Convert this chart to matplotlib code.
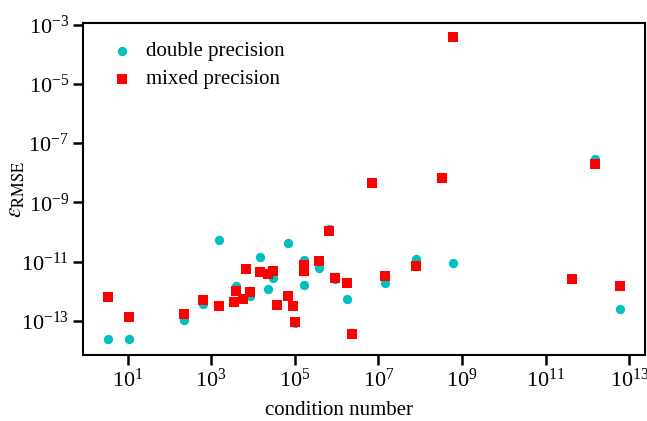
import numpy as np
import matplotlib
matplotlib.use("Agg")
import matplotlib.pyplot as plt

plt.rcParams['font.family'] = ['Liberation Serif', 'DejaVu Serif']
plt.rcParams['mathtext.fontset'] = 'stix'

# log10 of condition number, log10 of RMSE
log_cond = [0.535, 1.03, 2.34, 2.80, 3.19, 3.54, 3.59, 3.75, 3.84, 3.94, 4.17,
            4.35, 4.48, 4.58, 4.83, 4.95, 5.01, 5.22, 5.22, 5.59, 5.82, 5.96,
            6.24, 6.38, 6.84, 7.17, 7.90, 8.52, 8.78, 11.63, 12.18, 12.77]
log_double = [-13.62, -13.62, -12.96, -12.43, -10.27, -12.36, -11.82, -12.26,
              -11.25, -12.15, -10.86, -11.93, -11.54, -12.48, -10.38, -12.50,
              -13.06, -10.94, -11.79, -11.22, -9.90, -11.60, -12.27, -13.42,
              -8.35, -11.73, -10.92, -8.14, -11.06, -11.57, -7.54, -12.61]
log_mixed = [-12.19, -12.87, -12.77, -12.31, -12.49, -12.36, -11.99, -12.26,
             -11.25, -12.04, -11.36, -11.41, -11.31, -12.48, -12.16, -12.50,
             -13.04, -11.11, -11.31, -10.98, -9.98, -11.56, -11.72, -13.44,
             -8.35, -11.48, -11.15, -8.18, -3.42, -11.59, -7.70, -11.81]

cond = 10.0 ** np.array(log_cond)
err_double = 10.0 ** np.array(log_double)
err_mixed = 10.0 ** np.array(log_mixed)

fig = plt.figure(figsize=(6.47, 4.21), dpi=100)
ax = fig.add_axes([0.128, 0.157, 0.869, 0.788])

ax.scatter(cond, err_double, s=45, c='c', marker='o', linewidths=0,
           label='double precision', zorder=2)
ax.scatter(cond, err_mixed, s=48, c='r', marker='s', linewidths=0,
           label='mixed precision', zorder=3)

ax.set_xscale('log')
ax.set_yscale('log')
ax.set_xlim(10 ** -0.07, 10 ** 13.38)
ax.set_ylim(10 ** -14.15, 10 ** -2.95)
ax.set_xticks([10.0 ** k for k in range(1, 14, 2)])
ax.set_yticks([10.0 ** k for k in range(-13, -2, 2)])
ax.minorticks_off()

ax.tick_params(axis='both', which='major', direction='out', length=7, width=1.8,
               labelsize=16, pad=3)
for sp in ax.spines.values():
    sp.set_linewidth(1.5)

ax.set_xlabel('condition number', fontsize=15)
ax.xaxis.set_label_coords(0.455, -0.14)
ax.set_ylabel(r'$\varepsilon_{\rm RMSE}$', fontsize=17)
ax.yaxis.set_label_coords(-0.10, 0.5)

ax.legend(loc='upper left', frameon=False, fontsize=15, handletextpad=0.15,
          borderaxespad=0.5, labelspacing=0.4, scatterpoints=1)

fig.savefig('out.png', dpi=100)
